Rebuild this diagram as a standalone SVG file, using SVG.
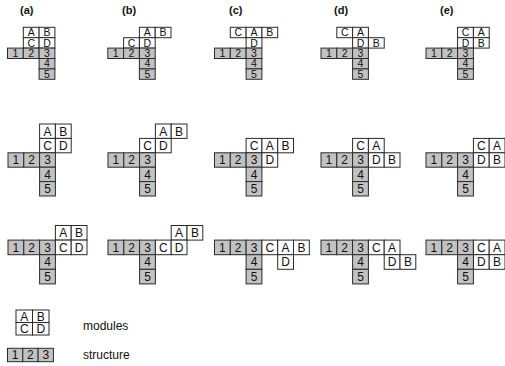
<svg xmlns="http://www.w3.org/2000/svg" width="505" height="366" viewBox="0 0 505 366">
<style>
.m{fill:#fff;stroke:#2a2a2a;stroke-width:1}
.s{fill:#c2c2c2;stroke:#2a2a2a;stroke-width:1}
text{font-family:"Liberation Sans",Arial,sans-serif;fill:#111}
.t1{font-size:10.5px;text-anchor:middle}
.t{font-size:12px;text-anchor:middle}
.lb{font-size:11px;font-weight:bold}
.lg{font-size:12px}
</style>
<rect width="505" height="366" fill="#fff"/>
<g id="labels">
<text class="lb" x="20" y="14">(a)</text>
<text class="lb" x="122" y="14">(b)</text>
<text class="lb" x="229" y="14">(c)</text>
<text class="lb" x="334" y="14">(d)</text>
<text class="lb" x="440" y="14">(e)</text>
</g>
<!-- Row 1 -->
<g id="r1a" transform="translate(7.5,27.3)">
<rect class="m" x="15.8" y="0" width="15.8" height="10.4"/><rect class="m" x="31.6" y="0" width="15.8" height="10.4"/>
<rect class="m" x="15.8" y="10.4" width="15.8" height="10.4"/><rect class="m" x="31.6" y="10.4" width="15.8" height="10.4"/>
<rect class="s" x="0" y="20.8" width="15.8" height="10.4"/><rect class="s" x="15.8" y="20.8" width="15.8" height="10.4"/><rect class="s" x="31.6" y="20.8" width="15.8" height="10.4"/>
<rect class="s" x="31.6" y="31.2" width="15.8" height="10.4"/><rect class="s" x="31.6" y="41.6" width="15.8" height="10.4"/>
<text class="t1" x="23.7" y="9">A</text><text class="t1" x="39.5" y="9">B</text>
<text class="t1" x="23.7" y="19.4">C</text><text class="t1" x="39.5" y="19.4">D</text>
<text class="t1" x="7.9" y="29.8">1</text><text class="t1" x="23.7" y="29.8">2</text><text class="t1" x="39.5" y="29.8">3</text>
<text class="t1" x="39.5" y="40.2">4</text><text class="t1" x="39.5" y="50.6">5</text>
</g>
<g id="r1b" transform="translate(107.8,27.3)">
<rect class="m" x="31.6" y="0" width="15.8" height="10.4"/><rect class="m" x="47.4" y="0" width="15.8" height="10.4"/>
<rect class="m" x="15.8" y="10.4" width="15.8" height="10.4"/><rect class="m" x="31.6" y="10.4" width="15.8" height="10.4"/>
<rect class="s" x="0" y="20.8" width="15.8" height="10.4"/><rect class="s" x="15.8" y="20.8" width="15.8" height="10.4"/><rect class="s" x="31.6" y="20.8" width="15.8" height="10.4"/>
<rect class="s" x="31.6" y="31.2" width="15.8" height="10.4"/><rect class="s" x="31.6" y="41.6" width="15.8" height="10.4"/>
<text class="t1" x="39.5" y="9">A</text><text class="t1" x="55.3" y="9">B</text>
<text class="t1" x="23.7" y="19.4">C</text><text class="t1" x="39.5" y="19.4">D</text>
<text class="t1" x="7.9" y="29.8">1</text><text class="t1" x="23.7" y="29.8">2</text><text class="t1" x="39.5" y="29.8">3</text>
<text class="t1" x="39.5" y="40.2">4</text><text class="t1" x="39.5" y="50.6">5</text>
</g>
<g id="r1c" transform="translate(214.5,27.3)">
<rect class="m" x="15.8" y="0" width="15.8" height="10.4"/><rect class="m" x="31.6" y="0" width="15.8" height="10.4"/><rect class="m" x="47.4" y="0" width="15.8" height="10.4"/>
<rect class="m" x="31.6" y="10.4" width="15.8" height="10.4"/>
<rect class="s" x="0" y="20.8" width="15.8" height="10.4"/><rect class="s" x="15.8" y="20.8" width="15.8" height="10.4"/><rect class="s" x="31.6" y="20.8" width="15.8" height="10.4"/>
<rect class="s" x="31.6" y="31.2" width="15.8" height="10.4"/><rect class="s" x="31.6" y="41.6" width="15.8" height="10.4"/>
<text class="t1" x="23.7" y="9">C</text><text class="t1" x="39.5" y="9">A</text><text class="t1" x="55.3" y="9">B</text>
<text class="t1" x="39.5" y="19.4">D</text>
<text class="t1" x="7.9" y="29.8">1</text><text class="t1" x="23.7" y="29.8">2</text><text class="t1" x="39.5" y="29.8">3</text>
<text class="t1" x="39.5" y="40.2">4</text><text class="t1" x="39.5" y="50.6">5</text>
</g>
<g id="r1d" transform="translate(321,27.3)">
<rect class="m" x="15.8" y="0" width="15.8" height="10.4"/><rect class="m" x="31.6" y="0" width="15.8" height="10.4"/>
<rect class="m" x="31.6" y="10.4" width="15.8" height="10.4"/><rect class="m" x="47.4" y="10.4" width="15.8" height="10.4"/>
<rect class="s" x="0" y="20.8" width="15.8" height="10.4"/><rect class="s" x="15.8" y="20.8" width="15.8" height="10.4"/><rect class="s" x="31.6" y="20.8" width="15.8" height="10.4"/>
<rect class="s" x="31.6" y="31.2" width="15.8" height="10.4"/><rect class="s" x="31.6" y="41.6" width="15.8" height="10.4"/>
<text class="t1" x="23.7" y="9">C</text><text class="t1" x="39.5" y="9">A</text>
<text class="t1" x="39.5" y="19.4">D</text><text class="t1" x="55.3" y="19.4">B</text>
<text class="t1" x="7.9" y="29.8">1</text><text class="t1" x="23.7" y="29.8">2</text><text class="t1" x="39.5" y="29.8">3</text>
<text class="t1" x="39.5" y="40.2">4</text><text class="t1" x="39.5" y="50.6">5</text>
</g>
<g id="r1e" transform="translate(426,27.3)">
<rect class="m" x="31.6" y="0" width="15.8" height="10.4"/><rect class="m" x="47.4" y="0" width="15.8" height="10.4"/>
<rect class="m" x="31.6" y="10.4" width="15.8" height="10.4"/><rect class="m" x="47.4" y="10.4" width="15.8" height="10.4"/>
<rect class="s" x="0" y="20.8" width="15.8" height="10.4"/><rect class="s" x="15.8" y="20.8" width="15.8" height="10.4"/><rect class="s" x="31.6" y="20.8" width="15.8" height="10.4"/>
<rect class="s" x="31.6" y="31.2" width="15.8" height="10.4"/><rect class="s" x="31.6" y="41.6" width="15.8" height="10.4"/>
<text class="t1" x="39.5" y="9">C</text><text class="t1" x="55.3" y="9">A</text>
<text class="t1" x="39.5" y="19.4">D</text><text class="t1" x="55.3" y="19.4">B</text>
<text class="t1" x="7.9" y="29.8">1</text><text class="t1" x="23.7" y="29.8">2</text><text class="t1" x="39.5" y="29.8">3</text>
<text class="t1" x="39.5" y="40.2">4</text><text class="t1" x="39.5" y="50.6">5</text>
</g>
<!-- Row 2 -->
<g id="r2a" transform="translate(8,124)">
<rect class="m" x="31.6" y="0" width="15.8" height="14.4"/><rect class="m" x="47.4" y="0" width="15.8" height="14.4"/>
<rect class="m" x="31.6" y="14.4" width="15.8" height="14.4"/><rect class="m" x="47.4" y="14.4" width="15.8" height="14.4"/>
<rect class="s" x="0" y="28.8" width="15.8" height="14.4"/><rect class="s" x="15.8" y="28.8" width="15.8" height="14.4"/><rect class="s" x="31.6" y="28.8" width="15.8" height="14.4"/>
<rect class="s" x="31.6" y="43.2" width="15.8" height="14.4"/><rect class="s" x="31.6" y="57.6" width="15.8" height="14.4"/>
<text class="t" x="39.5" y="11.5">A</text><text class="t" x="55.3" y="11.5">B</text>
<text class="t" x="39.5" y="25.9">C</text><text class="t" x="55.3" y="25.9">D</text>
<text class="t" x="7.9" y="40.3">1</text><text class="t" x="23.7" y="40.3">2</text><text class="t" x="39.5" y="40.3">3</text>
<text class="t" x="39.5" y="54.7">4</text><text class="t" x="39.5" y="69.1">5</text>
</g>
<g id="r2b" transform="translate(108,124)">
<rect class="m" x="47.4" y="0" width="15.8" height="14.4"/><rect class="m" x="63.2" y="0" width="15.8" height="14.4"/>
<rect class="m" x="31.6" y="14.4" width="15.8" height="14.4"/><rect class="m" x="47.4" y="14.4" width="15.8" height="14.4"/>
<rect class="s" x="0" y="28.8" width="15.8" height="14.4"/><rect class="s" x="15.8" y="28.8" width="15.8" height="14.4"/><rect class="s" x="31.6" y="28.8" width="15.8" height="14.4"/>
<rect class="s" x="31.6" y="43.2" width="15.8" height="14.4"/><rect class="s" x="31.6" y="57.6" width="15.8" height="14.4"/>
<text class="t" x="55.3" y="11.5">A</text><text class="t" x="71.1" y="11.5">B</text>
<text class="t" x="39.5" y="25.9">C</text><text class="t" x="55.3" y="25.9">D</text>
<text class="t" x="7.9" y="40.3">1</text><text class="t" x="23.7" y="40.3">2</text><text class="t" x="39.5" y="40.3">3</text>
<text class="t" x="39.5" y="54.7">4</text><text class="t" x="39.5" y="69.1">5</text>
</g>
<g id="r2c" transform="translate(214.5,124)">
<rect class="m" x="31.6" y="14.4" width="15.8" height="14.4"/><rect class="m" x="47.4" y="14.4" width="15.8" height="14.4"/><rect class="m" x="63.2" y="14.4" width="15.8" height="14.4"/>
<rect class="s" x="0" y="28.8" width="15.8" height="14.4"/><rect class="s" x="15.8" y="28.8" width="15.8" height="14.4"/><rect class="s" x="31.6" y="28.8" width="15.8" height="14.4"/>
<rect class="m" x="47.4" y="28.8" width="15.8" height="14.4"/>
<rect class="s" x="31.6" y="43.2" width="15.8" height="14.4"/><rect class="s" x="31.6" y="57.6" width="15.8" height="14.4"/>
<text class="t" x="39.5" y="25.9">C</text><text class="t" x="55.3" y="25.9">A</text><text class="t" x="71.1" y="25.9">B</text>
<text class="t" x="7.9" y="40.3">1</text><text class="t" x="23.7" y="40.3">2</text><text class="t" x="39.5" y="40.3">3</text><text class="t" x="55.3" y="40.3">D</text>
<text class="t" x="39.5" y="54.7">4</text><text class="t" x="39.5" y="69.1">5</text>
</g>
<g id="r2d" transform="translate(321,124)">
<rect class="m" x="31.6" y="14.4" width="15.8" height="14.4"/><rect class="m" x="47.4" y="14.4" width="15.8" height="14.4"/>
<rect class="s" x="0" y="28.8" width="15.8" height="14.4"/><rect class="s" x="15.8" y="28.8" width="15.8" height="14.4"/><rect class="s" x="31.6" y="28.8" width="15.8" height="14.4"/>
<rect class="m" x="47.4" y="28.8" width="15.8" height="14.4"/><rect class="m" x="63.2" y="28.8" width="15.8" height="14.4"/>
<rect class="s" x="31.6" y="43.2" width="15.8" height="14.4"/><rect class="s" x="31.6" y="57.6" width="15.8" height="14.4"/>
<text class="t" x="39.5" y="25.9">C</text><text class="t" x="55.3" y="25.9">A</text>
<text class="t" x="7.9" y="40.3">1</text><text class="t" x="23.7" y="40.3">2</text><text class="t" x="39.5" y="40.3">3</text><text class="t" x="55.3" y="40.3">D</text><text class="t" x="71.1" y="40.3">B</text>
<text class="t" x="39.5" y="54.7">4</text><text class="t" x="39.5" y="69.1">5</text>
</g>
<g id="r2e" transform="translate(426,124)">
<rect class="m" x="47.4" y="14.4" width="15.8" height="14.4"/><rect class="m" x="63.2" y="14.4" width="15.8" height="14.4"/>
<rect class="s" x="0" y="28.8" width="15.8" height="14.4"/><rect class="s" x="15.8" y="28.8" width="15.8" height="14.4"/><rect class="s" x="31.6" y="28.8" width="15.8" height="14.4"/>
<rect class="m" x="47.4" y="28.8" width="15.8" height="14.4"/><rect class="m" x="63.2" y="28.8" width="15.8" height="14.4"/>
<rect class="s" x="31.6" y="43.2" width="15.8" height="14.4"/><rect class="s" x="31.6" y="57.6" width="15.8" height="14.4"/>
<text class="t" x="55.3" y="25.9">C</text><text class="t" x="71.1" y="25.9">A</text>
<text class="t" x="7.9" y="40.3">1</text><text class="t" x="23.7" y="40.3">2</text><text class="t" x="39.5" y="40.3">3</text><text class="t" x="55.3" y="40.3">D</text><text class="t" x="71.1" y="40.3">B</text>
<text class="t" x="39.5" y="54.7">4</text><text class="t" x="39.5" y="69.1">5</text>
</g>
<!-- Row 3 -->
<g id="r3a" transform="translate(8,225.5)">
<rect class="m" x="47.4" y="0" width="15.8" height="14.6"/><rect class="m" x="63.2" y="0" width="15.8" height="14.6"/>
<rect class="s" x="0" y="14.6" width="15.8" height="14.6"/><rect class="s" x="15.8" y="14.6" width="15.8" height="14.6"/><rect class="s" x="31.6" y="14.6" width="15.8" height="14.6"/>
<rect class="m" x="47.4" y="14.6" width="15.8" height="14.6"/><rect class="m" x="63.2" y="14.6" width="15.8" height="14.6"/>
<rect class="s" x="31.6" y="29.2" width="15.8" height="14.6"/><rect class="s" x="31.6" y="43.8" width="15.8" height="14.6"/>
<text class="t" x="55.3" y="11.6">A</text><text class="t" x="71.1" y="11.6">B</text>
<text class="t" x="7.9" y="26.2">1</text><text class="t" x="23.7" y="26.2">2</text><text class="t" x="39.5" y="26.2">3</text><text class="t" x="55.3" y="26.2">C</text><text class="t" x="71.1" y="26.2">D</text>
<text class="t" x="39.5" y="40.8">4</text><text class="t" x="39.5" y="55.4">5</text>
</g>
<g id="r3b" transform="translate(108,225.5)">
<rect class="m" x="63.2" y="0" width="15.8" height="14.6"/><rect class="m" x="79" y="0" width="15.8" height="14.6"/>
<rect class="s" x="0" y="14.6" width="15.8" height="14.6"/><rect class="s" x="15.8" y="14.6" width="15.8" height="14.6"/><rect class="s" x="31.6" y="14.6" width="15.8" height="14.6"/>
<rect class="m" x="47.4" y="14.6" width="15.8" height="14.6"/><rect class="m" x="63.2" y="14.6" width="15.8" height="14.6"/>
<rect class="s" x="31.6" y="29.2" width="15.8" height="14.6"/><rect class="s" x="31.6" y="43.8" width="15.8" height="14.6"/>
<text class="t" x="71.1" y="11.6">A</text><text class="t" x="86.9" y="11.6">B</text>
<text class="t" x="7.9" y="26.2">1</text><text class="t" x="23.7" y="26.2">2</text><text class="t" x="39.5" y="26.2">3</text><text class="t" x="55.3" y="26.2">C</text><text class="t" x="71.1" y="26.2">D</text>
<text class="t" x="39.5" y="40.8">4</text><text class="t" x="39.5" y="55.4">5</text>
</g>
<g id="r3c" transform="translate(214.5,225.5)">
<rect class="s" x="0" y="14.6" width="15.8" height="14.6"/><rect class="s" x="15.8" y="14.6" width="15.8" height="14.6"/><rect class="s" x="31.6" y="14.6" width="15.8" height="14.6"/>
<rect class="m" x="47.4" y="14.6" width="15.8" height="14.6"/><rect class="m" x="63.2" y="14.6" width="15.8" height="14.6"/><rect class="m" x="79" y="14.6" width="15.8" height="14.6"/>
<rect class="m" x="63.2" y="29.2" width="15.8" height="14.6"/>
<rect class="s" x="31.6" y="29.2" width="15.8" height="14.6"/><rect class="s" x="31.6" y="43.8" width="15.8" height="14.6"/>
<text class="t" x="7.9" y="26.2">1</text><text class="t" x="23.7" y="26.2">2</text><text class="t" x="39.5" y="26.2">3</text><text class="t" x="55.3" y="26.2">C</text><text class="t" x="71.1" y="26.2">A</text><text class="t" x="86.9" y="26.2">B</text>
<text class="t" x="71.1" y="40.8">D</text>
<text class="t" x="39.5" y="40.8">4</text><text class="t" x="39.5" y="55.4">5</text>
</g>
<g id="r3d" transform="translate(321,225.5)">
<rect class="s" x="0" y="14.6" width="15.8" height="14.6"/><rect class="s" x="15.8" y="14.6" width="15.8" height="14.6"/><rect class="s" x="31.6" y="14.6" width="15.8" height="14.6"/>
<rect class="m" x="47.4" y="14.6" width="15.8" height="14.6"/><rect class="m" x="63.2" y="14.6" width="15.8" height="14.6"/>
<rect class="m" x="63.2" y="29.2" width="15.8" height="14.6"/><rect class="m" x="79" y="29.2" width="15.8" height="14.6"/>
<rect class="s" x="31.6" y="29.2" width="15.8" height="14.6"/><rect class="s" x="31.6" y="43.8" width="15.8" height="14.6"/>
<text class="t" x="7.9" y="26.2">1</text><text class="t" x="23.7" y="26.2">2</text><text class="t" x="39.5" y="26.2">3</text><text class="t" x="55.3" y="26.2">C</text><text class="t" x="71.1" y="26.2">A</text>
<text class="t" x="71.1" y="40.8">D</text><text class="t" x="86.9" y="40.8">B</text>
<text class="t" x="39.5" y="40.8">4</text><text class="t" x="39.5" y="55.4">5</text>
</g>
<g id="r3e" transform="translate(426,225.5)">
<rect class="s" x="0" y="14.6" width="15.8" height="14.6"/><rect class="s" x="15.8" y="14.6" width="15.8" height="14.6"/><rect class="s" x="31.6" y="14.6" width="15.8" height="14.6"/>
<rect class="m" x="47.4" y="14.6" width="15.8" height="14.6"/><rect class="m" x="63.2" y="14.6" width="15.8" height="14.6"/>
<rect class="m" x="47.4" y="29.2" width="15.8" height="14.6"/><rect class="m" x="63.2" y="29.2" width="15.8" height="14.6"/>
<rect class="s" x="31.6" y="29.2" width="15.8" height="14.6"/><rect class="s" x="31.6" y="43.8" width="15.8" height="14.6"/>
<text class="t" x="7.9" y="26.2">1</text><text class="t" x="23.7" y="26.2">2</text><text class="t" x="39.5" y="26.2">3</text><text class="t" x="55.3" y="26.2">C</text><text class="t" x="71.1" y="26.2">A</text>
<text class="t" x="55.3" y="40.8">D</text><text class="t" x="71.1" y="40.8">B</text>
<text class="t" x="39.5" y="40.8">4</text><text class="t" x="39.5" y="55.4">5</text>
</g>
<!-- Legend -->
<g id="legend-modules">
<rect class="m" x="16" y="310" width="16.5" height="12.5"/><rect class="m" x="32.5" y="310" width="16.5" height="12.5"/>
<rect class="m" x="16" y="322.5" width="16.5" height="12.5"/><rect class="m" x="32.5" y="322.5" width="16.5" height="12.5"/>
<text class="t" x="24.25" y="320.6">A</text><text class="t" x="40.75" y="320.6">B</text>
<text class="t" x="24.25" y="333.1">C</text><text class="t" x="40.75" y="333.1">D</text>
<text class="lg" x="83" y="330">modules</text>
</g>
<g id="legend-structure">
<rect class="s" x="7.5" y="348.3" width="15.3" height="13.4"/><rect class="s" x="22.8" y="348.3" width="15.3" height="13.4"/><rect class="s" x="38.1" y="348.3" width="15.3" height="13.4"/>
<text class="t" x="15.15" y="359.3">1</text><text class="t" x="30.45" y="359.3">2</text><text class="t" x="45.75" y="359.3">3</text>
<text class="lg" x="83" y="359">structure</text>
</g>
<g id="connectors"/>
</svg>
